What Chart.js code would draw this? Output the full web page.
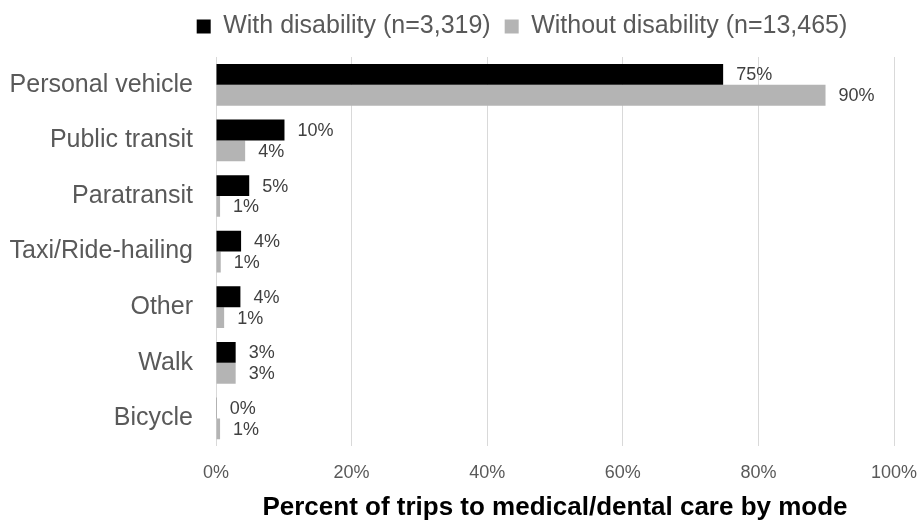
<!DOCTYPE html>
<html lang="en">
<head>
<meta charset="UTF-8">
<title>Trips to medical/dental care by mode</title>
<script src="https://cdn.jsdelivr.net/npm/chart.js@4.4.1/dist/chart.umd.min.js"></script>
<style>
    html, body { margin: 0; padding: 0; background: #fff; }
    canvas { display: block; }
</style>
</head>
<body>
<canvas id="chart" width="918" height="529"></canvas>
<script>
// chart data
const modes = ['Personal vehicle', 'Public transit', 'Paratransit', 'Taxi/Ride-hailing', 'Other', 'Walk', 'Bicycle'];
const withDisability = [74.8, 10.1, 4.9, 3.7, 3.6, 2.9, 0.1];
const withoutDisability = [89.9, 4.3, 0.6, 0.7, 1.2, 2.9, 0.6];
const seriesNames = ['With disability (n=3,319)', 'Without disability (n=13,465)'];
const xTicks = [0, 20, 40, 60, 80, 100];
const axisTitle = 'Percent of trips to medical/dental care by mode';

Chart.defaults.font.family = '"Liberation Sans", Arial, sans-serif';

// value labels to the right of each bar
const valueLabels = {
    id: 'valueLabels',
    afterDatasetsDraw(chart) {
        const ctx = chart.ctx;
        ctx.save();
        ctx.font = '18px "Liberation Sans", Arial, sans-serif';
        ctx.fillStyle = '#404040';
        ctx.textAlign = 'left';
        ctx.textBaseline = 'middle';
        chart.data.datasets.forEach((ds, i) => {
            chart.getDatasetMeta(i).data.forEach((bar, j) => {
                ctx.fillText(Math.round(ds.data[j]) + '%', bar.x + 13, bar.y + 1);
            });
        });
        ctx.restore();
    }
};

// legend: fixed height and shifted right like the original
const legendPlace = {
    id: 'legendPlace',
    beforeUpdate(chart) {
        const lg = chart.legend;
        if (lg && !lg._fitWrapped) {
            const fit = lg.fit;
            lg.fit = function () {
                fit.call(this);
                this.height = 57;
            };
            lg._fitWrapped = true;
        }
    },
    afterLayout(chart) {
        chart.legend.left += 75;
        chart.legend.right += 75;
    }
};

new Chart(document.getElementById('chart'), {
    type: 'bar',
    data: {
        labels: modes,
        datasets: [
            {
                label: seriesNames[0],
                data: withDisability,
                backgroundColor: '#000000',
                borderWidth: 0
            },
            {
                label: seriesNames[1],
                data: withoutDisability,
                backgroundColor: '#b4b4b4',
                borderWidth: 0
            }
        ]
    },
    options: {
        indexAxis: 'y',
        responsive: false,
        animation: false,
        categoryPercentage: 0.75,
        barPercentage: 1.0,
        layout: {
            padding: { top: 0, right: 24, bottom: 2, left: 0 }
        },
        plugins: {
            tooltip: { enabled: false },
            legend: {
                position: 'top',
                labels: {
                    color: '#595959',
                    font: { size: 25 },
                    boxWidth: 14,
                    boxHeight: 14,
                    padding: 14
                }
            }
        },
        scales: {
            x: {
                min: 0,
                max: 100,
                afterBuildTicks: (scale) => {
                    scale.ticks = xTicks.map(v => ({ value: v }));
                },
                afterFit: (scale) => {
                    scale.paddingRight = 0;
                },
                grid: {
                    color: '#d9d9d9',
                    drawTicks: false
                },
                border: { display: false },
                ticks: {
                    color: '#595959',
                    font: { size: 18 },
                    padding: 16,
                    callback: (v) => v + '%'
                },
                title: {
                    display: true,
                    text: axisTitle,
                    color: '#000000',
                    font: { size: 26, weight: 'bold' },
                    padding: { top: -8, bottom: 4 }
                }
            },
            y: {
                grid: { display: false, drawTicks: false },
                border: { display: false },
                ticks: {
                    color: '#595959',
                    font: { size: 25 },
                    padding: 23
                },
                afterFit: (scale) => {
                    scale.width = 216;
                }
            }
        }
    },
    plugins: [valueLabels, legendPlace]
});
</script>
</body>
</html>
